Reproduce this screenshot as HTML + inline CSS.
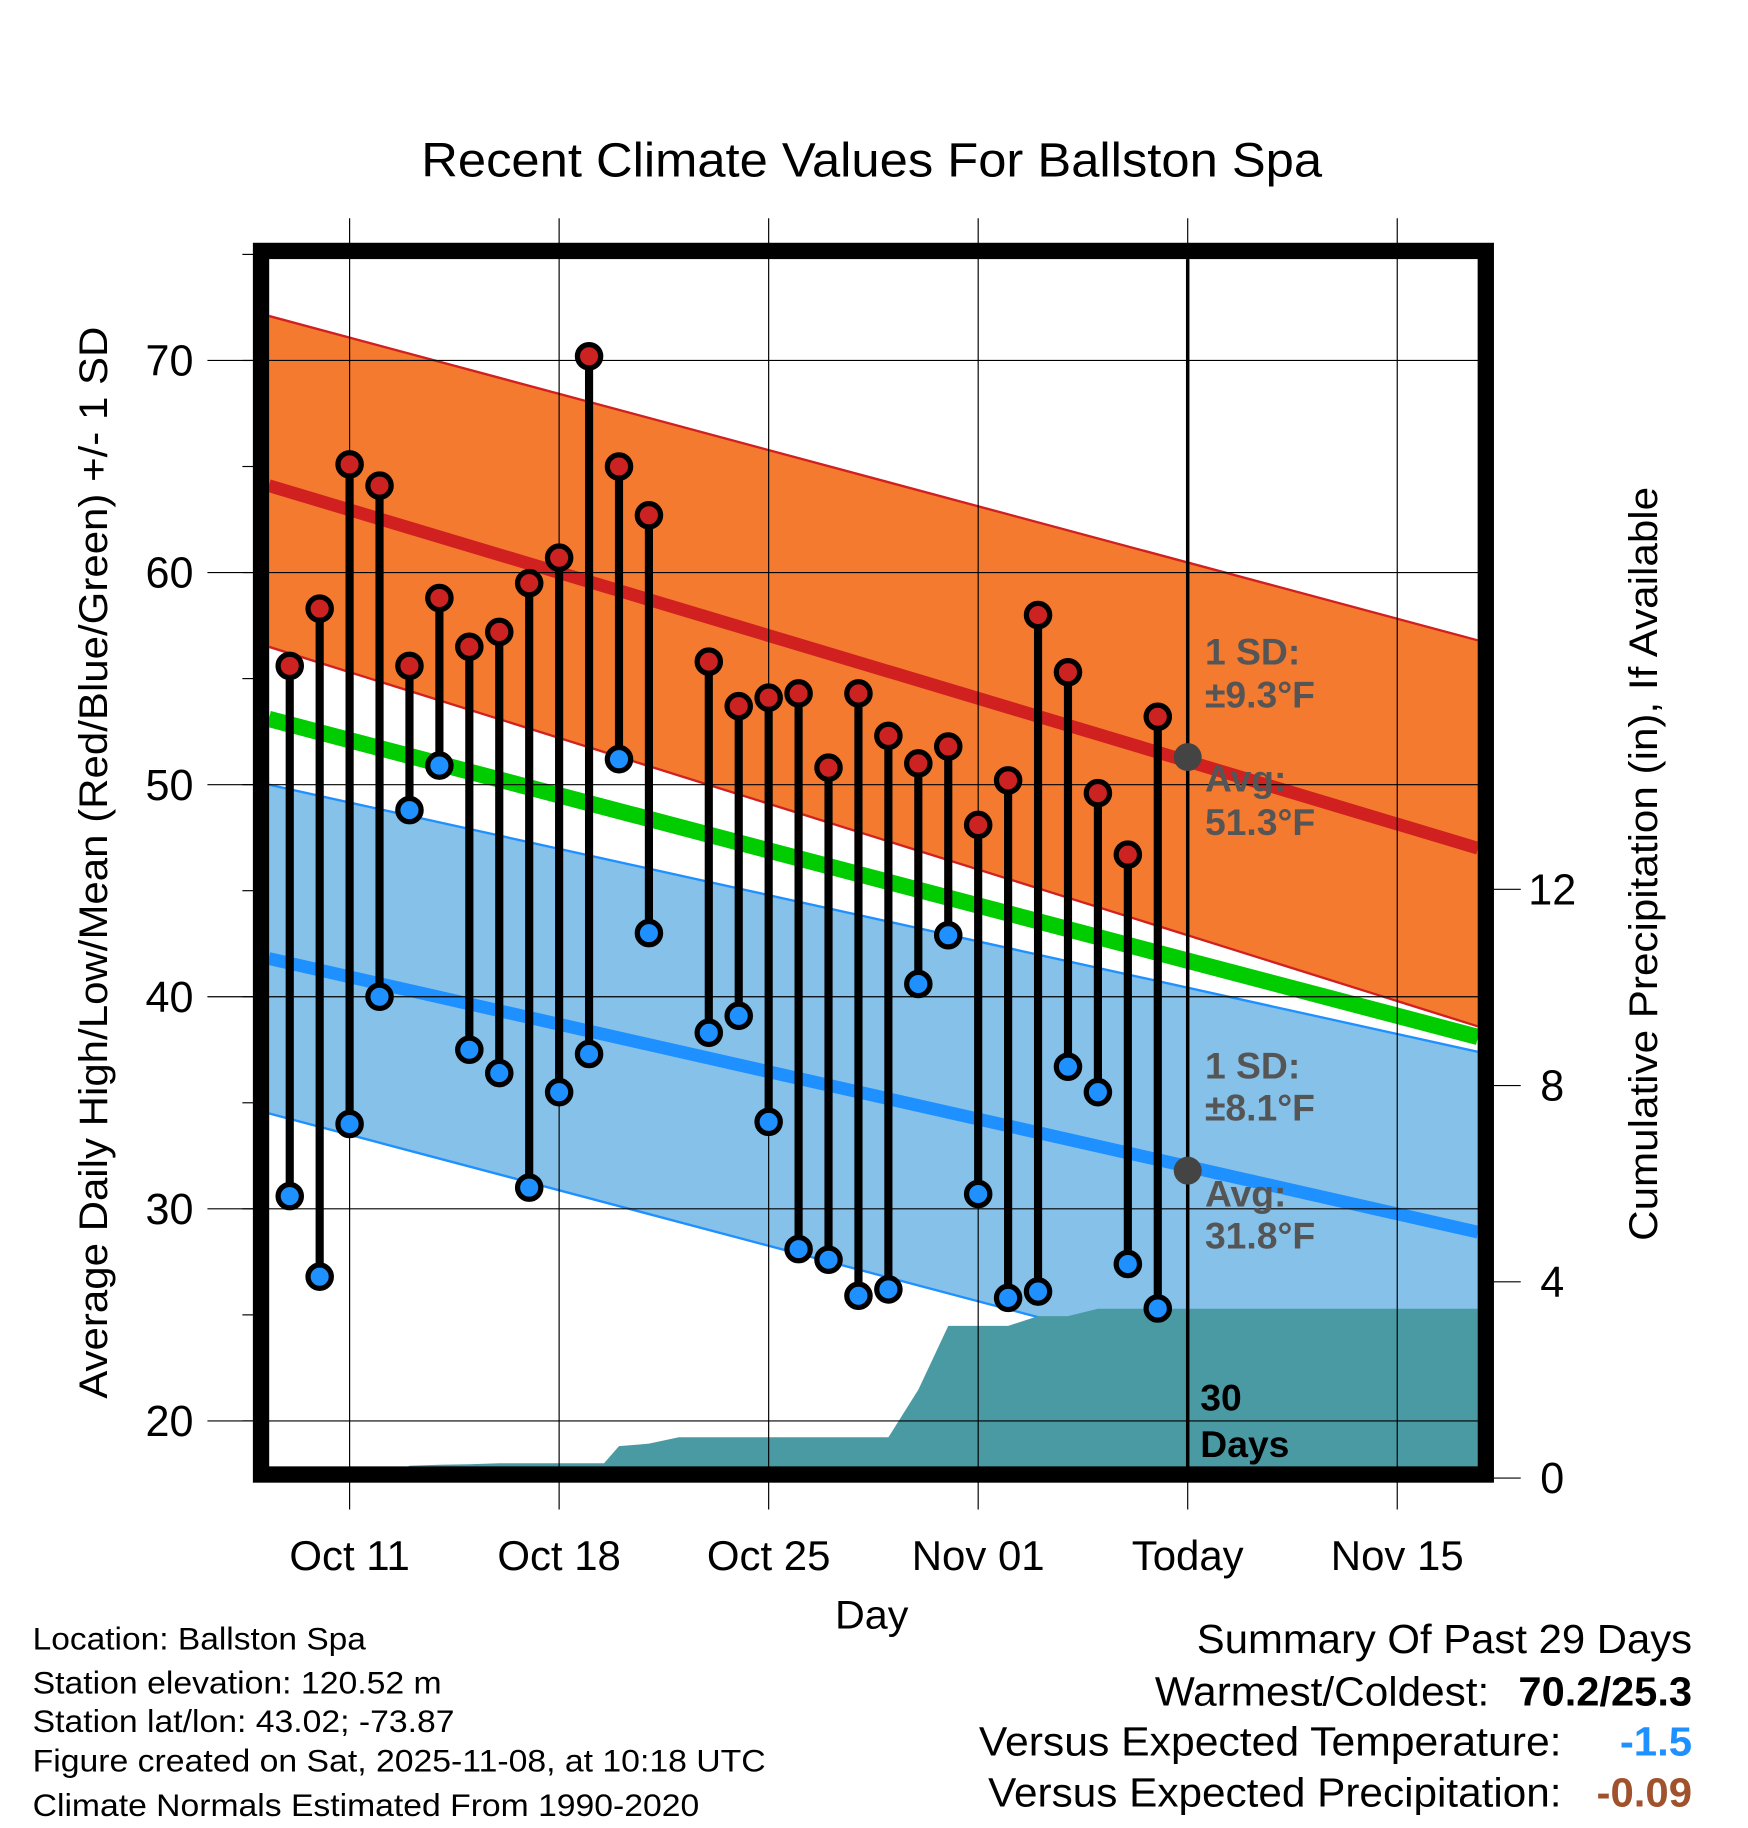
<!DOCTYPE html>
<html><head><meta charset="utf-8"><style>
html,body{margin:0;padding:0;background:#fff;}
svg{display:block;font-family:"Liberation Sans",Arial,sans-serif;}
</style></head><body>
<svg id="chart" width="1748" height="1828" viewBox="0 0 1500 1568" xmlns="http://www.w3.org/2000/svg">
<text x="748" y="151" font-size="41" text-anchor="middle" textLength="773" lengthAdjust="spacingAndGlyphs">Recent Climate Values For Ballston Spa</text>
<g id="bands"></g>
<g id="precip"></g>
<g id="grid"></g>
<g id="marks"></g>
<g id="annot">
<text x="1034" y="570" font-size="32" font-weight="bold" fill="#555">1 SD:</text>
<text x="1034" y="607" font-size="32" font-weight="bold" fill="#555">±9.3°F</text>
<text x="1034" y="679" font-size="32" font-weight="bold" fill="#555">Avg:</text>
<text x="1034" y="716" font-size="32" font-weight="bold" fill="#555">51.3°F</text>
<text x="1034" y="925" font-size="32" font-weight="bold" fill="#555">1 SD:</text>
<text x="1034" y="961" font-size="32" font-weight="bold" fill="#555">±8.1°F</text>
<text x="1034" y="1035" font-size="32" font-weight="bold" fill="#555">Avg:</text>
<text x="1034" y="1071" font-size="32" font-weight="bold" fill="#555">31.8°F</text>
<text x="1030" y="1210" font-size="32" font-weight="bold">30</text>
<text x="1030" y="1250" font-size="32" font-weight="bold">Days</text>
</g>
<rect x="224" y="215" width="1051" height="1050" fill="none" stroke="#000" stroke-width="14"/>
<text x="748" y="1397" font-size="34" text-anchor="middle" textLength="63" lengthAdjust="spacingAndGlyphs">Day</text>
<text transform="translate(92,740) rotate(-90)" font-size="34" text-anchor="middle" textLength="920" lengthAdjust="spacingAndGlyphs">Average Daily High/Low/Mean (Red/Blue/Green) +/- 1 SD</text>
<text transform="translate(1422,741) rotate(-90)" font-size="34" text-anchor="middle" textLength="647" lengthAdjust="spacingAndGlyphs">Cumulative Precipitation (in), If Available</text>
<g font-size="27" lengthAdjust="spacingAndGlyphs">
<text x="28" y="1415" textLength="286" lengthAdjust="spacingAndGlyphs">Location: Ballston Spa</text>
<text x="28" y="1453" textLength="351" lengthAdjust="spacingAndGlyphs">Station elevation: 120.52 m</text>
<text x="28" y="1486" textLength="362" lengthAdjust="spacingAndGlyphs">Station lat/lon: 43.02; -73.87</text>
<text x="28" y="1520" textLength="629" lengthAdjust="spacingAndGlyphs">Figure created on Sat, 2025-11-08, at 10:18 UTC</text>
<text x="28" y="1558" textLength="572" lengthAdjust="spacingAndGlyphs">Climate Normals Estimated From 1990-2020</text>
</g>
<g font-size="35">
<text x="1452" y="1418" text-anchor="end" textLength="425" lengthAdjust="spacingAndGlyphs">Summary Of Past 29 Days</text>
<text x="1278" y="1463" text-anchor="end" textLength="287" lengthAdjust="spacingAndGlyphs">Warmest/Coldest:</text>
<text x="1452" y="1463" text-anchor="end" font-weight="bold" textLength="149" lengthAdjust="spacingAndGlyphs">70.2/25.3</text>
<text x="1340" y="1506" text-anchor="end" textLength="500" lengthAdjust="spacingAndGlyphs">Versus Expected Temperature:</text>
<text x="1452" y="1506" text-anchor="end" font-weight="bold" fill="#1e90ff" textLength="62" lengthAdjust="spacingAndGlyphs">-1.5</text>
<text x="1340" y="1550" text-anchor="end" textLength="492" lengthAdjust="spacingAndGlyphs">Versus Expected Precipitation:</text>
<text x="1452" y="1550" text-anchor="end" font-weight="bold" fill="#a0522d" textLength="82" lengthAdjust="spacingAndGlyphs">-0.09</text>
</g>
</svg>
<script>
// days relative to Oct 11 (0)
const obsDays = [-2,-1,0,1,2,3,4,5,6,7,8,9,10,12,13,14,15,16,17,18,19,20,21,22,23,24,25,26,27];
const highs = [55.6,58.3,65.1,64.1,55.6,58.8,56.5,57.2,59.5,60.7,70.2,65.0,62.7,55.8,53.7,54.1,54.3,50.8,54.3,52.3,51.0,51.8,48.1,50.2,58.0,55.3,49.6,46.7,53.2];
const lows = [30.6,26.8,34.0,40.0,48.8,50.9,37.5,36.4,31.0,35.5,37.3,51.2,43.0,38.3,39.1,34.1,28.1,27.6,25.9,26.2,40.6,42.9,30.7,25.8,26.1,36.7,35.5,27.4,25.3];
const normDays = [-2.7, 37.7];
const normHighUpper = [72.1, 56.8];
const normHigh = [64.1, 47.0];
const normHighLower = [56.5, 38.6];
const normMean = [53.1, 38.1];
const normLowUpper = [50.0, 37.4];
const normLow = [41.8, 28.9];
const normLowLower = [34.5, 19.4];
const precipDays = [1,1.8,2,3,4,5,6,7,8,8.5,9,10,11,12,13,14,15,16,17,18,19,20,21,22,23,24,25,26,27,37.7];
const precipCum = [0,0,0.25,0.27,0.28,0.3,0.3,0.3,0.3,0.3,0.65,0.7,0.83,0.83,0.83,0.83,0.83,0.83,0.83,0.83,1.8,3.1,3.1,3.1,3.3,3.3,3.45,3.45,3.45,3.45];
const xTickDays = [0,7,14,21,28,35];
const xTickLabels = ["Oct 11","Oct 18","Oct 25","Nov 01","Today","Nov 15"];
const yTicks = [20,30,40,50,60,70];
const y2Ticks = [0,4,8,12];
const todayDay = 28;
const todayHighAvg = 51.3, todayLowAvg = 31.8;

const X = d => 300 + d*179.8/7;
const Y = v => 1219 - (v-20)*18.2;
const Y2 = p => 1268 - p*42.1;
const NS = "http://www.w3.org/2000/svg";
function mk(parent, tag, attrs){const e=document.createElementNS(NS,tag);for(const k in attrs)e.setAttribute(k,attrs[k]);document.getElementById(parent).appendChild(e);return e;}
const clip = mk('bands','clipPath',{id:'pc'});
const cr=document.createElementNS(NS,'rect');cr.setAttribute('x',231);cr.setAttribute('y',222);cr.setAttribute('width',1037);cr.setAttribute('height',1038);clip.appendChild(cr);
function band(up,lo,fill,stroke,name){
  const p=`M${X(normDays[0])},${Y(up[0])} L${X(normDays[1])},${Y(up[1])} L${X(normDays[1])},${Y(lo[1])} L${X(normDays[0])},${Y(lo[0])}Z`;
  let e=mk('bands','path',{d:p,fill:fill,'clip-path':'url(#pc)'});
  
  
  [up,lo].forEach(a=>{let l=mk('bands','line',{x1:X(normDays[0]),y1:Y(a[0]),x2:X(normDays[1]),y2:Y(a[1]),stroke:stroke,'stroke-width':2,'clip-path':'url(#pc)'});
  
  });
}
band(normHighUpper,normHighLower,'#f47a30','#d02020','high-sd-band');
band(normLowUpper,normLowLower,'#85c1e9','#1e90ff','low-sd-band');
function nline(a,color,w,name){let l=mk('bands','line',{x1:X(normDays[0]),y1:Y(a[0]),x2:X(normDays[1]),y2:Y(a[1]),stroke:color,'stroke-width':w,'clip-path':'url(#pc)'});
  
  }
nline(normHigh,'#d02020',11,'normal-high-line');
nline(normMean,'#00cc00',14,'normal-mean-line');
nline(normLow,'#1e90ff',11,'normal-low-line');
let pd=`M${X(precipDays[0])},1260`;
precipDays.forEach((d,i)=>{pd+=` L${X(d)},${Math.min(1260,Y2(precipCum[i]))}`;});
pd+=` L${X(precipDays[precipDays.length-1])},1260Z`;
let pa=mk('precip','path',{d:pd,fill:'#4a9aa4','clip-path':'url(#pc)'});


xTickDays.forEach((d,i)=>{
  let g=mk('grid','line',{x1:X(d),y1:187,x2:X(d),y2:1295,stroke:'#000','stroke-width':1});
  
  
  let t=mk('grid','text',{x:X(d),y:1347,'font-size':36,'text-anchor':'middle'});
  t.textContent=xTickLabels[i];
  
  
});
for(let v=20;v<=75;v+=5){
  let m=mk('grid','line',{x1:208,y1:Y(v),x2:218,y2:Y(v),stroke:'#000','stroke-width':1});
  
  
}
yTicks.forEach(v=>{
  let g=mk('grid','line',{x1:178,y1:Y(v),x2:1275,y2:Y(v),stroke:'#000','stroke-width':1});
  
  
  let t=mk('grid','text',{x:166,y:Y(v)+13,'font-size':37,'text-anchor':'end'});
  t.textContent=v;
  
  
});
y2Ticks.forEach(p=>{
  let g=mk('grid','line',{x1:1282,y1:Y2(p),x2:1305,y2:Y2(p),stroke:'#000','stroke-width':1});
  
  
  let t=mk('grid','text',{x:1332,y:Y2(p)+13,'font-size':37,'text-anchor':'middle'});
  t.textContent=p;
  
  
});
let tl=mk('marks','line',{x1:X(todayDay),y1:222,x2:X(todayDay),y2:1260,stroke:'#000','stroke-width':3});


[todayHighAvg,todayLowAvg].forEach(v=>{let c=mk('marks','circle',{cx:X(todayDay),cy:Y(v),r:12,fill:'#444'});
  
  });
obsDays.forEach((d,i)=>{
  let s=mk('marks','line',{x1:X(d),y1:Y(highs[i]),x2:X(d),y2:Y(lows[i]),stroke:'#000','stroke-width':7});
  
  
  let h=mk('marks','circle',{cx:X(d),cy:Y(highs[i]),r:10,fill:'#cc2222',stroke:'#000','stroke-width':4.5});
  
  
  let l=mk('marks','circle',{cx:X(d),cy:Y(lows[i]),r:10,fill:'#1e90ff',stroke:'#000','stroke-width':4.5});
  
  
});
</script>
</body></html>
